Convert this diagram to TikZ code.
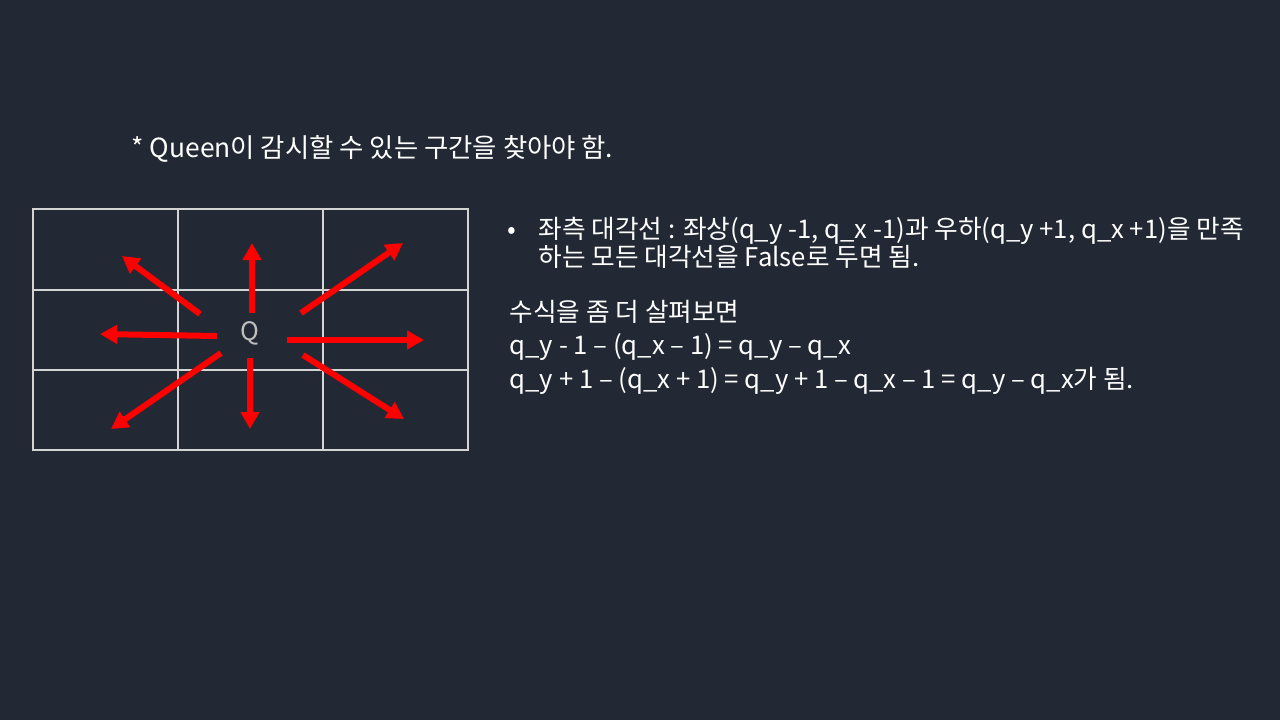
\documentclass[tikz,border=0pt]{standalone}
\usepackage{fontspec}
\setmainfont{Noto Sans CJK KR}
\usetikzlibrary{arrows.meta}
\definecolor{slidebg}{HTML}{232934}
\definecolor{gridgray}{HTML}{D4D4D4}
\definecolor{queenred}{HTML}{FF0000}
\definecolor{slidetext}{HTML}{FFFFFF}
\definecolor{queengray}{HTML}{BFBFBF}

\begin{document}
\begin{tikzpicture}[x=0.01cm, y=-0.01cm,
    gridline/.style={draw=gridgray, line width=0.011cm},
    reach/.style={draw=queenred, line width=0.06cm,
      -{Triangle[length=0.17cm, width=0.18cm]}},
    slidetxt/.style={text=slidetext, font=\fontsize{7.3pt}{9.4pt}\selectfont,
      inner sep=0pt, anchor=base west}
  ]
  \fill[slidebg] (0,0) rectangle (1280,720);
  \useasboundingbox (0,0) rectangle (1280,720);

  % board
  \draw[gridline] (33,209) rectangle (468,450);
  \foreach \x in {178,323}
    \draw[gridline] (\x,209) -- (\x,450);
  \foreach \y in {290,370}
    \draw[gridline] (33,\y) -- (468,\y);

  \node[text=queengray, font=\fontsize{7.2pt}{8pt}\selectfont, inner sep=0pt]
    (queen) at (250,333) {Q};

  % queen moves
  \foreach \sx/\sy/\tx/\ty [count=\i] in {252/313/252/243, 200/314/122/256,
      301/313/403/243, 217/336/100/334, 287/340/424/340, 221/353/111/429,
      250/358/250/429, 303/355/404/419} {
    \coordinate (from\i) at (\sx,\sy);
    \coordinate (to\i) at (\tx,\ty);
    \draw[reach] (from\i) -- (to\i);
  }

  % text
  \node[slidetxt, font=\fontsize{7.5pt}{9.4pt}\selectfont] (title) at (131,157)
    {* Queen이 감시할 수 있는 구간을 찾아야 함.};
  \node[slidetxt] (bullet) at (507,238) {•};
  \node[slidetxt] (rule1) at (538,238)
    {좌측 대각선 : 좌상(q\_y -1, q\_x -1)과 우하(q\_y +1, q\_x +1)을 만족};
  \node[slidetxt] (rule2) at (538,266) {하는 모든 대각선을 False로 두면 됨.};
  \node[slidetxt] (look) at (509,321) {수식을 좀 더 살펴보면};
  \node[slidetxt] (eq1) at (509,354) {q\_y - 1 – (q\_x – 1) = q\_y – q\_x};
  \node[slidetxt] (eq2) at (509,388)
    {q\_y + 1 – (q\_x + 1) = q\_y + 1 – q\_x – 1 = q\_y – q\_x가 됨.};
\end{tikzpicture}
\end{document}
